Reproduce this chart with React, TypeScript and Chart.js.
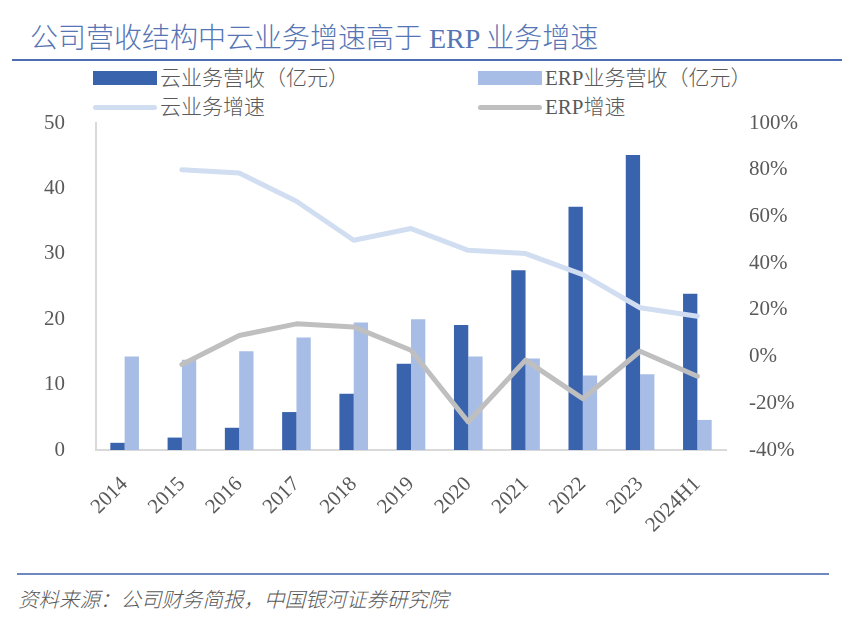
import React, { useEffect, useRef } from "react";
import { Chart, registerables } from "chart.js";

Chart.register(...registerables);

const categories = ["2014", "2015", "2016", "2017", "2018", "2019", "2020", "2021", "2022", "2023", "2024H1"];
const cloudRevenue = [1.1, 1.9, 3.4, 5.8, 8.6, 13.2, 19.1, 27.5, 37.2, 45.1, 23.9];
const erpRevenue = [14.3, 13.8, 15.1, 17.2, 19.5, 20.0, 14.3, 14.0, 11.4, 11.6, 4.6];
const cloudGrowth = [null, 80.0, 78.6, 66.5, 49.8, 54.8, 45.5, 44.1, 35.1, 20.9, 17.3];
const erpGrowth = [null, -3.4, 9.0, 14.0, 12.7, 2.7, -28.0, -1.5, -18.0, 2.3, -8.4];

const seriesNames = ["云业务营收（亿元）", "ERP业务营收（亿元）", "云业务增速", "ERP增速"];
const titleText = "公司营收结构中云业务增速高于 ERP 业务增速";
const sourceText = "资料来源：公司财务简报，中国银河证券研究院";

const C_CLOUD = "#3A63AD";
const C_ERP = "#A8BDE5";
const C_CLOUD_G = "#D1DEF1";
const C_ERP_G = "#BFBFBF";
const TEXT = "#595959";
const FONT = "'Liberation Serif', 'Noto Sans CJK SC', serif";

export default function App() {
  const ref = useRef<HTMLCanvasElement | null>(null);

  useEffect(() => {
    if (!ref.current) return;
    const chart = new Chart(ref.current, {
      type: "bar",
      data: {
        labels: categories,
        datasets: [
          { type: "line", label: seriesNames[2], data: cloudGrowth, yAxisID: "y1", borderColor: C_CLOUD_G, borderWidth: 5, pointRadius: 0, borderCapStyle: "round", borderJoinStyle: "round", order: 0, spanGaps: false },
          { type: "line", label: seriesNames[3], data: erpGrowth, yAxisID: "y1", borderColor: C_ERP_G, borderWidth: 5, pointRadius: 0, borderCapStyle: "round", borderJoinStyle: "round", order: 0 },
          { type: "bar", label: seriesNames[0], data: cloudRevenue, yAxisID: "y", backgroundColor: C_CLOUD, categoryPercentage: 0.5, barPercentage: 1.0, order: 1 },
          { type: "bar", label: seriesNames[1], data: erpRevenue, yAxisID: "y", backgroundColor: C_ERP, categoryPercentage: 0.5, barPercentage: 1.0, order: 1 },
        ] as any,
      },
      options: {
        responsive: false,
        animation: false,
        devicePixelRatio: 1,
        layout: { padding: { top: 123, left: 0, right: 0, bottom: 0 } },
        plugins: { legend: { display: false }, tooltip: { enabled: false }, title: { display: false } },
        scales: {
          x: {
            grid: { display: false, drawTicks: false },
            border: { display: true, color: "#D9D9D9", width: 2 },
            ticks: { color: TEXT, font: { family: FONT, size: 21 }, maxRotation: 45, minRotation: 45, padding: 22, autoSkip: false },
            afterFit: (s: any) => { s.height = 110; },
          },
          y: {
            position: "left",
            min: 0, max: 50,
            grid: { display: false, drawTicks: false },
            border: { display: true, color: "#D9D9D9", width: 2 },
            ticks: { stepSize: 10, color: TEXT, font: { family: FONT, size: 21 }, padding: 31 },
            afterFit: (s: any) => { s.width = 96; },
          },
          y1: {
            position: "right",
            min: -40, max: 100,
            grid: { display: false, drawTicks: false },
            border: { display: false },
            ticks: { stepSize: 20, color: TEXT, font: { family: FONT, size: 21 }, padding: 23, callback: (v: any) => v + "%" },
            afterFit: (s: any) => { s.width = 128; },
          },
        },
      } as any,
    });
    return () => chart.destroy();
  }, []);

  const legendText: React.CSSProperties = { position: "absolute", fontFamily: FONT, fontSize: 21, fontWeight: 300, color: TEXT, lineHeight: "24px", whiteSpace: "nowrap" };

  return (
    <div style={{ position: "absolute", left: 0, top: 0, width: 854, height: 618, background: "#fff", overflow: "hidden" }}>
      <div style={{ position: "absolute", left: 30, top: 22, fontFamily: FONT, fontSize: 28, fontWeight: 300, color: "#5575B5", whiteSpace: "nowrap", lineHeight: "34px" }}>{titleText}</div>
      <div style={{ position: "absolute", left: 12, top: 58.5, width: 830, height: 2.5, background: "#4D6DB4" }} />

      <div style={{ position: "absolute", left: 93, top: 71, width: 64, height: 14, background: C_CLOUD }} />
      <div style={{ ...legendText, left: 160, top: 66 }}>{seriesNames[0]}</div>
      <div style={{ position: "absolute", left: 478, top: 71, width: 64, height: 14, background: C_ERP }} />
      <div style={{ ...legendText, left: 545, top: 66 }}>{seriesNames[1]}</div>
      <div style={{ position: "absolute", left: 93, top: 105, width: 64, height: 5, borderRadius: 3, background: C_CLOUD_G }} />
      <div style={{ ...legendText, left: 160, top: 95 }}>{seriesNames[2]}</div>
      <div style={{ position: "absolute", left: 478, top: 105, width: 64, height: 5, borderRadius: 3, background: C_ERP_G }} />
      <div style={{ ...legendText, left: 545, top: 95 }}>{seriesNames[3]}</div>

      <canvas ref={ref} width={854} height={560} style={{ position: "absolute", left: 0, top: 0, width: 854, height: 560 }} />

      <div style={{ position: "absolute", left: 17, top: 573, width: 812, height: 2, background: "#6F88C2" }} />
      <div style={{ position: "absolute", left: 18, top: 588, fontFamily: FONT, fontSize: 20.5, fontWeight: 300, fontStyle: "italic", color: TEXT, whiteSpace: "nowrap", lineHeight: "24px" }}>{sourceText}</div>
    </div>
  );
}
